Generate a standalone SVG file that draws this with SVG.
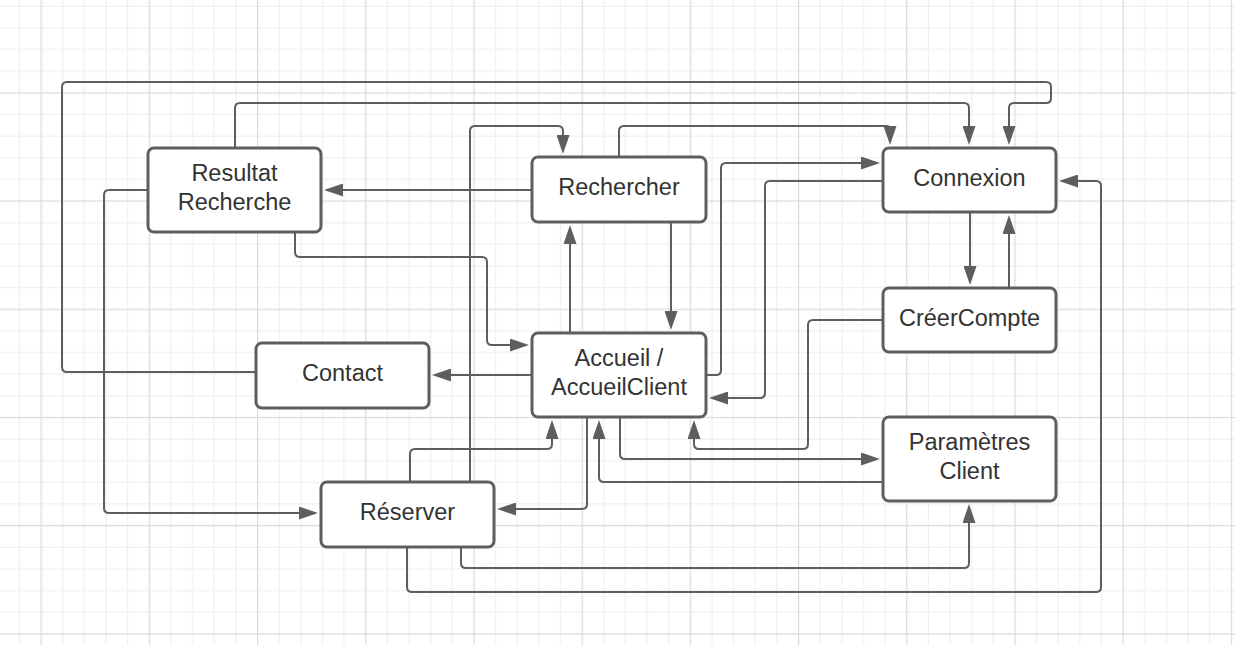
<svg xmlns="http://www.w3.org/2000/svg" width="1235" height="645" viewBox="0 0 1235 645">
<style>
.box{fill:#ffffff;stroke:#5e5e5e;stroke-width:3}
.lbl{font-family:"Liberation Sans",Arial,sans-serif;font-size:23.5px;fill:#333333;text-anchor:middle}
.cn{fill:none;stroke:#5e5e5e;stroke-width:2;marker-end:url(#arr)}
</style>
<defs>
<pattern id="grid" x="40.6" y="92.3" width="108.2" height="108.2" patternUnits="userSpaceOnUse">
<rect x="21.64" y="0" width="1" height="108.2" fill="#ececec"/>
<rect x="43.28" y="0" width="1" height="108.2" fill="#ececec"/>
<rect x="64.92" y="0" width="1" height="108.2" fill="#ececec"/>
<rect x="86.56" y="0" width="1" height="108.2" fill="#ececec"/>
<rect x="0" y="21.64" width="108.2" height="1" fill="#ececec"/>
<rect x="0" y="43.28" width="108.2" height="1" fill="#ececec"/>
<rect x="0" y="64.92" width="108.2" height="1" fill="#ececec"/>
<rect x="0" y="86.56" width="108.2" height="1" fill="#ececec"/>
<rect x="0" y="0" width="1.2" height="108.2" fill="#dadada"/>
<rect x="0" y="0" width="108.2" height="1.2" fill="#dadada"/>
</pattern>
<marker id="arr" viewBox="0 0 19 13" refX="3" refY="6.5" markerWidth="19" markerHeight="13" markerUnits="userSpaceOnUse" orient="auto">
<path d="M0,0 L19,6.5 L0,13 Z" fill="#5e5e5e"/>
</marker>
</defs>
<rect id="background" x="0" y="0" width="1235" height="645" fill="#ffffff"/>
<rect x="0" y="0" width="1235" height="645" fill="url(#grid)"/>
<g id="connectors">
<path class="cn" d="M256,372 L67,372 Q62,372 62,367 L62,87 Q62,82 67,82 L1046,82 Q1051,82 1051,87 L1051,98 Q1051,103 1046,103 L1014,103 Q1009,103 1009,108 L1009,129"/>
<path class="cn" d="M235,148 L235,108 Q235,103 240,103 L964,103 Q969,103 969,108 L969,129"/>
<path class="cn" d="M470,482 L470,131 Q470,126 475,126 L558,126 Q563,126 563,131 L563,138"/>
<path class="cn" d="M619,157 L619,131 Q619,126 624,126 L886,126 Q890,126 890,129"/>
<path class="cn" d="M532,190 L340,190"/>
<path class="cn" d="M295,232 L295,252 Q295,257 300,257 L482,257 Q487,257 487,262 L487,340 Q487,345 492,345 L513,345"/>
<path class="cn" d="M148,190 L109,190 Q104,190 104,195 L104,508 Q104,513 109,513 L302,513"/>
<path class="cn" d="M570,333 L570,241"/>
<path class="cn" d="M671,222 L671,314"/>
<path class="cn" d="M706,375 L716,375 Q721,375 721,370 L721,168 Q721,163 726,163 L864,163"/>
<path class="cn" d="M883,181 L770,181 Q765,181 765,186 L765,393 Q765,398 760,398 L725,398"/>
<path class="cn" d="M532,375 L448,375"/>
<path class="cn" d="M970,212 L970,269"/>
<path class="cn" d="M1009,288 L1009,231"/>
<path class="cn" d="M883,320 L813,320 Q808,320 808,325 L808,444 Q808,449 803,449 L699,449 Q694,449 694,444 L694,436"/>
<path class="cn" d="M620,417 L620,454 Q620,459 625,459 L864,459"/>
<path class="cn" d="M883,482 L604,482 Q599,482 599,477 L599,436"/>
<path class="cn" d="M587,417 L587,504 Q587,509 582,509 L513,509"/>
<path class="cn" d="M410,482 L410,454 Q410,449 415,449 L547,449 Q552,449 552,444 L552,436"/>
<path class="cn" d="M407,547 L407,587 Q407,592 412,592 L1096,592 Q1101,592 1101,587 L1101,186 Q1101,181 1096,181 L1075,181"/>
<path class="cn" d="M461,547 L461,563 Q461,568 466,568 L964,568 Q969,568 969,563 L969,520"/>
</g>
<g id="node-resultat-recherche">
<rect class="box" x="148" y="148" width="173" height="84" rx="6"/>
<text class="lbl" x="234.5" y="181">Resultat</text>
<text class="lbl" x="234.5" y="209.5">Recherche</text>
</g>
<g id="node-rechercher">
<rect class="box" x="532" y="157" width="174" height="65" rx="6"/>
<text class="lbl" x="619" y="195">Rechercher</text>
</g>
<g id="node-connexion">
<rect class="box" x="883" y="148" width="173" height="64" rx="6"/>
<text class="lbl" x="969.5" y="185.5">Connexion</text>
</g>
<g id="node-creercompte">
<rect class="box" x="883" y="288" width="173" height="64" rx="6"/>
<text class="lbl" x="969.5" y="325.5">CréerCompte</text>
</g>
<g id="node-accueil">
<rect class="box" x="532" y="333" width="174" height="84" rx="6"/>
<text class="lbl" x="619" y="366">Accueil /</text>
<text class="lbl" x="619" y="394.5">AccueilClient</text>
</g>
<g id="node-contact">
<rect class="box" x="256" y="343" width="173" height="65" rx="6"/>
<text class="lbl" x="342.5" y="381">Contact</text>
</g>
<g id="node-parametres-client">
<rect class="box" x="883" y="417" width="173" height="84" rx="6"/>
<text class="lbl" x="969.5" y="450">Paramètres</text>
<text class="lbl" x="969.5" y="478.5">Client</text>
</g>
<g id="node-reserver">
<rect class="box" x="321" y="482" width="173" height="65" rx="6"/>
<text class="lbl" x="407.5" y="520">Réserver</text>
</g>
</svg>
